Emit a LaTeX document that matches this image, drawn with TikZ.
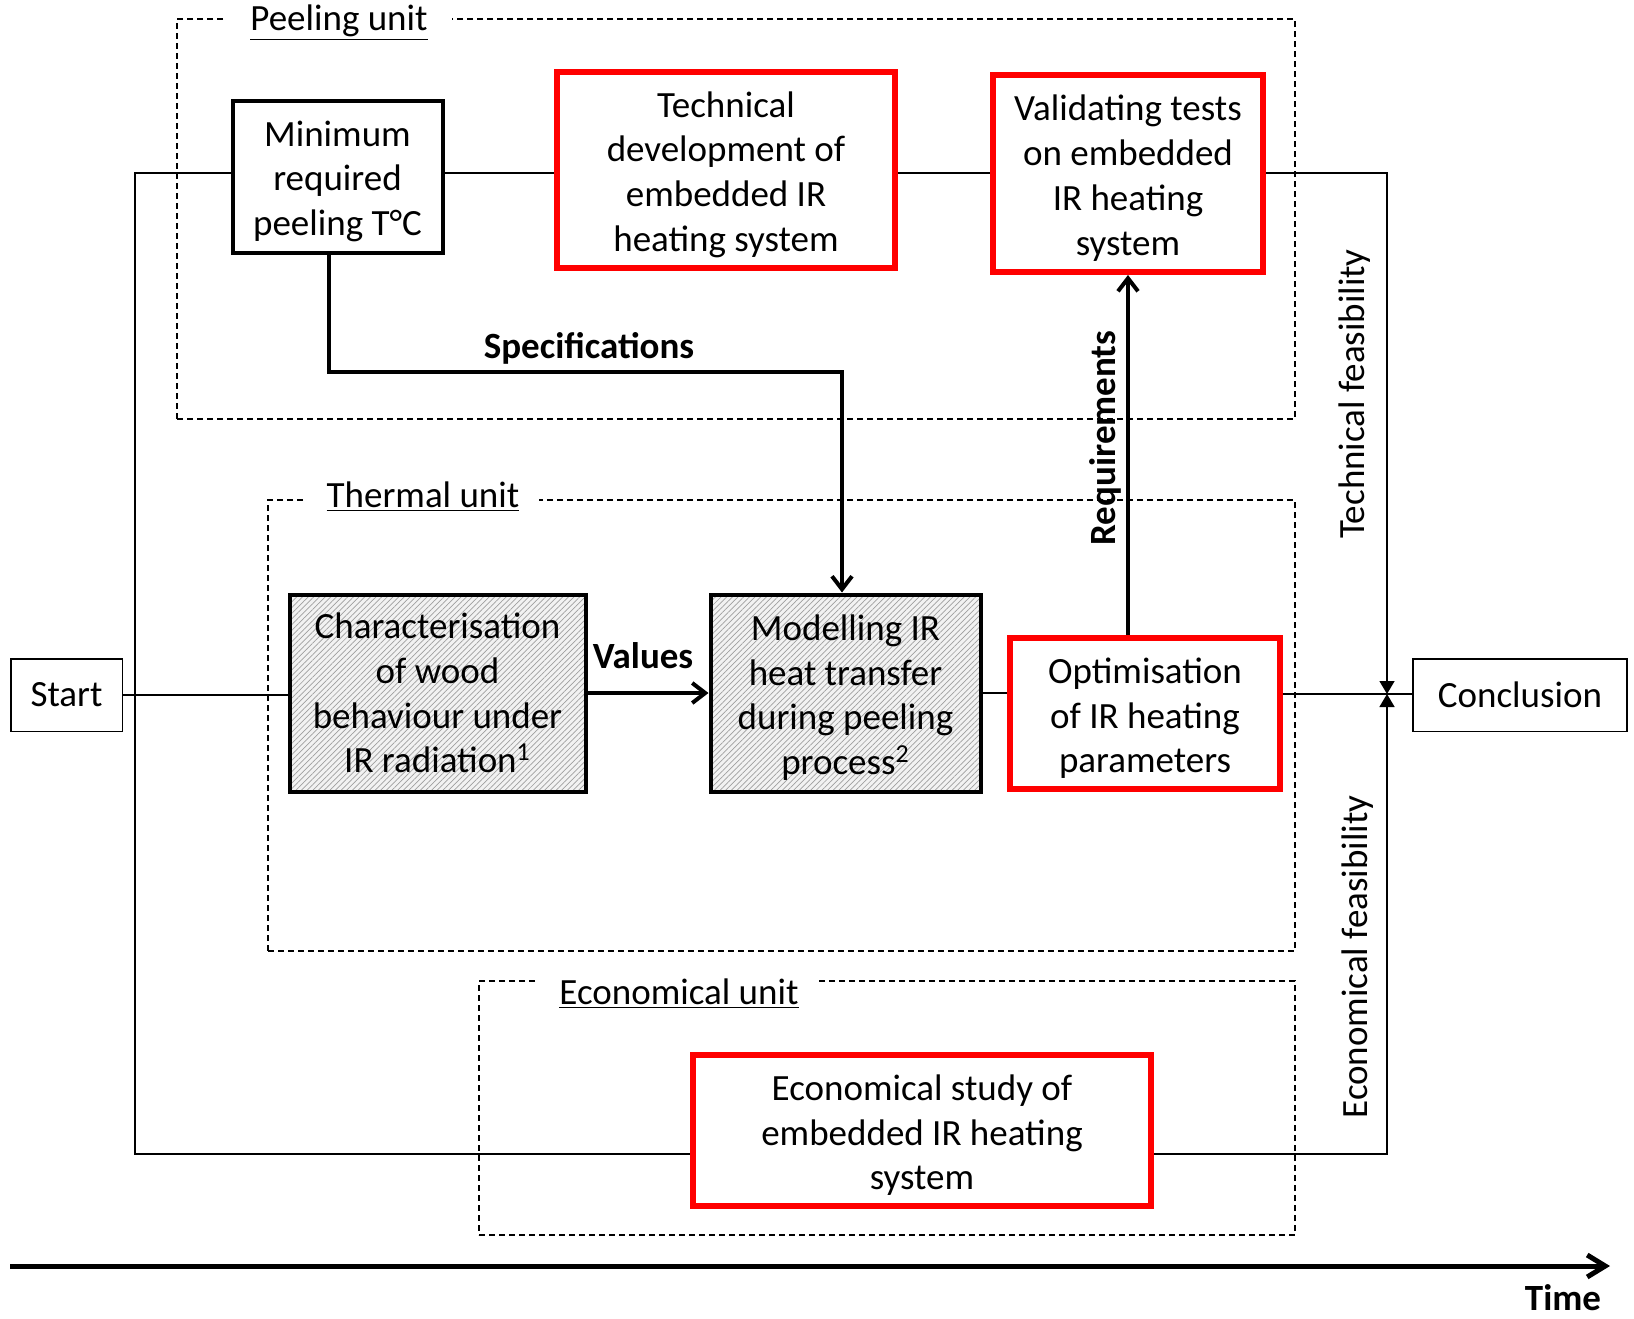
\documentclass[tikz,border=0pt]{standalone}
\usepackage{fontspec}
\setmainfont{Carlito}
\usetikzlibrary{arrows.meta,patterns.meta,calc}
\newcommand{\topfix}{\rule{0pt}{17.5pt}}
\begin{document}
\begin{tikzpicture}[x=0.5pt,y=-0.5pt,
  every node/.style={font=\fontsize{18.5}{22.4}\selectfont, align=center, inner sep=0pt},
  blackbox/.style={draw, line width=2pt, fill=white},
  redbox/.style={draw=red, line width=3pt, fill=white},
  hatchbox/.style={draw, line width=2pt, preaction={fill=gray!10},
     pattern={Lines[angle=45,distance=2pt,line width=0.35pt]}, pattern color=gray!75},
  thinbox/.style={draw, line width=0.75pt, fill=white},
  unitbox/.style={draw, line width=0.6pt, dash pattern=on 3pt off 2pt},
  unittitle/.style={fill=white, inner xsep=10pt, inner ysep=2pt},
  thinline/.style={line width=0.75pt},
  flow/.style={line width=2pt, -{Straight Barb[length=6.5pt,width=10pt]}},
  meet/.style={line width=0.75pt, -{Triangle[length=6.5pt,width=7.5pt]}},
  lbl/.style={font=\fontsize{18.5}{22.4}\selectfont\bfseries}]
\useasboundingbox (0,0) rectangle (1634,1318);

% unit frames
\node[unitbox, minimum width=559pt, minimum height=200pt] (peelunit) at (736,219) {};
\node[unitbox, minimum width=513.5pt, minimum height=225.5pt] (thermunit) at (781.5,725.5) {};
\node[unitbox, minimum width=408pt, minimum height=127pt] (econunit) at (887,1108) {};
\node[unittitle, inner xsep=12pt] (peeltitle) at (339,23) {\underline{Peeling unit}};
\node[unittitle] (thermtitle) at (423,497) {\underline{Thermal unit}};
\node[unittitle] (econtitle) at (679,994) {\underline{Economical unit}};

% boxes
\node[blackbox, minimum width=105pt, minimum height=76pt] (min) at (337.5,176.5) {\topfix Minimum\\required\\peeling T°C};
\node[redbox, minimum width=169pt, minimum height=98pt] (tech) at (726,170) {\topfix Technical\\development of\\embedded IR\\heating system};
\node[redbox, minimum width=135pt, minimum height=98.5pt] (valid) at (1128,173.5) {\topfix Validating tests\\on embedded\\IR heating\\system};
\node[hatchbox, minimum width=148pt, minimum height=98.5pt] (char) at (437.5,693) {Characterisation\\of wood\\behaviour under\\IR radiation\textsuperscript{1}};
\node[hatchbox, minimum width=135pt, minimum height=98.5pt] (mod) at (845.5,693) {\topfix Modelling IR\\heat transfer\\during peeling\\process\textsuperscript{2}};
\node[redbox, minimum width=135pt, minimum height=75.5pt] (opt) at (1145,713.5) {\topfix Optimisation\\of IR heating\\parameters};
\node[redbox, minimum width=229pt, minimum height=75.5pt] (econ) at (922,1130.5) {\topfix Economical study of\\embedded IR heating\\system};
\node[thinbox, minimum width=55.75pt, minimum height=36.25pt] (start) at (66.5,695) {Start};
\node[thinbox, minimum width=107pt, minimum height=36.25pt] (concl) at (1520,695) {Conclusion};

% frame coordinates
\coordinate (tl) at (135,173);
\coordinate (bl) at (135,1154);
\coordinate (tr) at (1387,173);
\coordinate (br) at (1387,1154);
\coordinate (mr) at (1387,694);
\coordinate (sp1) at (329,372);
\coordinate (sp2) at (842,372);
\coordinate (t1) at (10,1266);
\coordinate (t2) at (1610,1266);

% thin process lines
\draw[thinline] (tl -| min.west) -- (tl) -- (bl) -- (bl -| econ.west);
\draw[thinline] (tl -| min.east) -- (tl -| tech.west);
\draw[thinline] (tl -| tech.east) -- (tl -| valid.west);
\draw[thinline] (start.east) -- (start.east -| char.west);
\draw[thinline] (mod.east) -- (mod.east -| opt.west);
\draw[thinline] (mr -| opt.east) -- (mr -| concl.west);
\draw[meet] (tl -| valid.east) -- (tr) -- (mr);
\draw[meet] (bl -| econ.east) -- (br) -- (mr);

% flows
\draw[flow] (min.south -| sp1) -- (sp1) -- (sp2) -- (sp2 |- mod.north);
\draw[flow] (char.east) -- (mod.west);
\draw[flow] (opt.north -| valid.south) -- (valid.south);

% labels
\node[lbl] (speclbl) at (589,348) {Specifications};
\node[lbl] (vallbl) at (643,656) {Values};
\node[lbl, rotate=90] (reqlbl) at (1105,438) {Requirements};
\node[rotate=90] (techfeas) at (1355,394) {Technical feasibility};
\node[rotate=90] (econfeas) at (1358,957) {Economical feasibility};

% time axis
\draw[line width=2.5pt, -{Straight Barb[length=9pt,width=11pt]}] (t1) -- (t2);
\node[lbl] (timelbl) at (1563,1298) {Time};
\end{tikzpicture}
\end{document}
